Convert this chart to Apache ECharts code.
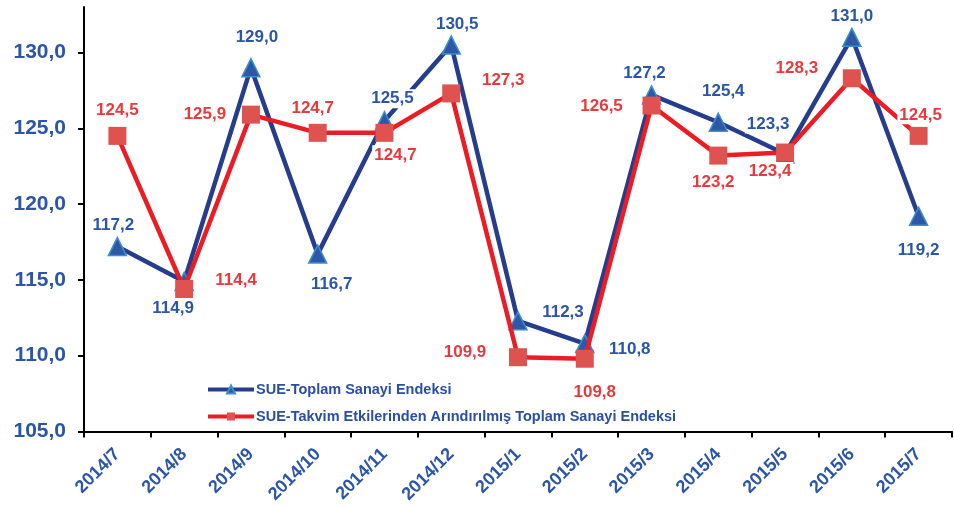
<!DOCTYPE html>
<html>
<head>
<meta charset="utf-8">
<script src="https://cdn.jsdelivr.net/npm/echarts@6/dist/echarts.min.js"></script>
<style>
    html, body { margin: 0; padding: 0; background: #fff; }
    #chart { width: 954px; height: 506px; }
</style>
</head>
<body>
<div id="chart"></div>
<script>
var months = ['2014/7', '2014/8', '2014/9', '2014/10', '2014/11', '2014/12',
    '2015/1', '2015/2', '2015/3', '2015/4', '2015/5', '2015/6', '2015/7'];
var toplam = [117.2, 114.9, 129.0, 116.7, 125.5, 130.5, 112.3, 110.8, 127.2, 125.4, 123.3, 131.0, 119.2];
var takvim = [124.5, 114.4, 125.9, 124.7, 124.7, 127.3, 109.9, 109.8, 126.5, 123.2, 123.4, 128.3, 124.5];
var yTicks = [105, 110, 115, 120, 125, 130];

// where each value label sits relative to its marker (px)
var toplamLabelPos = [[-4, -21], [-11, 27], [6, -30], [14, 30], [8, -22], [6, -21],
    [45, -9], [45, 6], [-7, -22], [5, -31], [-17, -30], [0, -21], [0, 34]];
var takvimLabelPos = [[0, -26], [52, -9], [-46, 0], [-5, -25], [11, 22], [52, -13],
    [-53, -5], [10, 34], [-50, 1], [-5, 27], [-15, 19], [-55, -10], [2, -21]];

var chart = echarts.init(document.getElementById('chart'));

function fmt(v) {
    return v.toFixed(1).replace('.', ',');
}

function withLabels(values, pos) {
    return values.map(function (v, i) {
        return { value: v, label: { offset: pos[i] } };
    });
}

var labelFont = {
    fontFamily: 'Liberation Sans, Arial, sans-serif',
    fontWeight: 'bold'
};

var option = {
    animation: false,
    grid: { left: 84, right: 2, top: 7, bottom: 74 },
    legend: {
        orient: 'vertical',
        left: 201,
        top: 377,
        itemWidth: 46,
        itemHeight: 10,
        itemGap: 12,
        lineStyle: { width: 4 },
        textStyle: {
            color: '#2a4fa0',
            fontSize: 14.5,
            fontWeight: 'bold',
            fontFamily: 'Liberation Sans, Arial, sans-serif',
            padding: [0, 0, 0, -3]
        },
        data: ['SUE-Toplam Sanayi Endeksi', 'SUE-Takvim Etkilerinden Arındırılmış Toplam Sanayi Endeksi']
    },
    xAxis: {
        type: 'category',
        data: months,
        boundaryGap: true,
        axisLine: { lineStyle: { color: '#000', width: 2 } },
        axisTick: { show: true, length: 6, lineStyle: { color: '#000', width: 2 } },
        axisLabel: {
            rotate: 45,
            margin: 20,
            interval: 0,
            color: '#2b55a6',
            fontSize: 18,
            fontWeight: 'bold',
            fontFamily: 'Liberation Sans, Arial, sans-serif'
        },
        splitLine: { show: false }
    },
    yAxis: {
        type: 'value',
        min: 105,
        max: 133,
        interval: 5,
        axisLine: { show: true, lineStyle: { color: '#000', width: 2 } },
        axisTick: { show: true, length: 6, customValues: yTicks, lineStyle: { color: '#000', width: 2 } },
        axisLabel: {
            customValues: yTicks,
            margin: 18,
            color: '#2b55a6',
            fontSize: 21,
            fontWeight: 'bold',
            fontFamily: 'Liberation Sans, Arial, sans-serif',
            formatter: function (v) { return fmt(v); }
        },
        splitLine: { show: false }
    },
    series: [
        {
            name: 'SUE-Toplam Sanayi Endeksi',
            type: 'line',
            data: withLabels(toplam, toplamLabelPos),
            symbol: 'triangle',
            symbolSize: 18,
            lineStyle: { color: '#263c8c', width: 4.5 },
            itemStyle: { color: '#2e58a6', borderColor: '#3b8ed0', borderWidth: 1.5 },
            label: Object.assign({
                show: true,
                position: 'inside',
                color: '#2b55a6',
                fontSize: 17,
                backgroundColor: '#fff',
                padding: [1, 2],
                formatter: function (p) { return fmt(p.value); }
            }, labelFont),
            z: 2
        },
        {
            name: 'SUE-Takvim Etkilerinden Arındırılmış Toplam Sanayi Endeksi',
            type: 'line',
            data: withLabels(takvim, takvimLabelPos),
            symbol: 'rect',
            symbolSize: 18,
            lineStyle: { color: '#ec1c24', width: 4.5 },
            itemStyle: { color: '#de5350' },
            label: Object.assign({
                show: true,
                position: 'inside',
                color: '#e8393d',
                fontSize: 17,
                backgroundColor: '#fff',
                padding: [1, 2],
                formatter: function (p) { return fmt(p.value); }
            }, labelFont),
            z: 3
        }
    ]
};

chart.setOption(option);
</script>
</body>
</html>
